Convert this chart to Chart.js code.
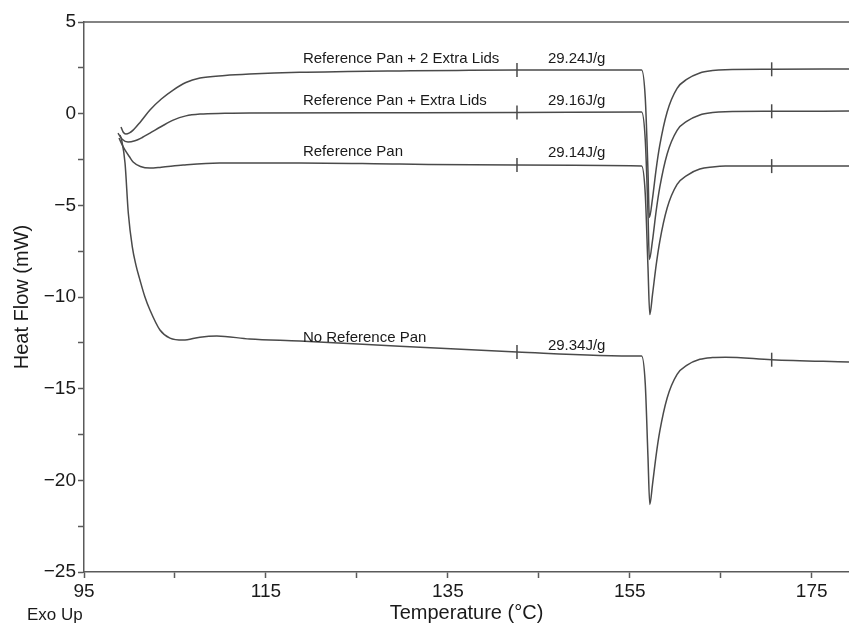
<!DOCTYPE html>
<html>
<head>
<meta charset="utf-8">
<title>DSC curves</title>
<script src="https://cdn.jsdelivr.net/npm/chart.js@4.4.1/dist/chart.umd.min.js"></script>
<style>
  html, body { margin: 0; padding: 0; background: #fff; }
</style>
</head>
<body>
<canvas id="dscChart" width="849" height="625"></canvas>
<script>
// curve names and enthalpy labels
const curveNames = ['Reference Pan + 2 Extra Lids', 'Reference Pan + Extra Lids', 'Reference Pan', 'No Reference Pan'];
const enthalpies = ['29.24J/g', '29.16J/g', '29.14J/g', '29.34J/g'];

// axis ticks
const xMajorTicks = [95, 115, 135, 155, 175];
const xMinorTicks = [105, 125, 145, 165];
const yMajorTicks = [-25, -20, -15, -10, -5, 0, 5];
const yMinorTicks = [-22.5, -17.5, -12.5, -7.5, -2.5, 2.5];

// Reference Pan + 2 Extra Lids
const tempA = [99.07, 99.3, 99.6, 100.0, 100.4, 101.2, 102.25, 103.5, 104.8, 106.2, 107.75, 110.5, 113.2, 118.7, 124.0, 129.7, 136.0, 142.6, 150.0, 156.3, 156.7, 157.0, 157.15, 157.5, 157.9, 158.3, 159.1, 160.2, 161.3, 162.7, 164.1, 165.5, 170.6, 179.1];
const flowA = [-0.73, -1.0, -1.11, -1.05, -0.9, -0.45, 0.2, 0.8, 1.29, 1.7, 1.94, 2.08, 2.16, 2.26, 2.3, 2.33, 2.36, 2.38, 2.38, 2.38, 0.88, -3.12, -5.67, -4.62, -3.02, -1.72, 0.08, 1.38, 1.88, 2.22, 2.35, 2.40, 2.42, 2.44];

// Reference Pan + Extra Lids
const tempB = [98.74, 99.2, 99.84, 100.6, 101.4, 102.25, 103.5, 104.8, 106.2, 107.75, 110.5, 113.2, 129.7, 142.6, 156.3, 156.7, 157.0, 157.15, 157.5, 157.9, 158.3, 159.1, 160.2, 161.3, 162.7, 164.1, 165.5, 170.6, 179.1];
const flowB = [-1.06, -1.4, -1.55, -1.48, -1.3, -1.06, -0.7, -0.35, -0.12, -0.02, 0.02, 0.04, 0.05, 0.06, 0.09, -1.41, -5.41, -7.96, -6.91, -5.31, -4.01, -2.21, -0.91, -0.41, -0.07, 0.06, 0.11, 0.13, 0.14];

// Reference Pan
const tempC = [98.85, 99.2, 99.5, 100.0, 100.4, 101.2, 102.25, 103.5, 105.9, 109.9, 118.7, 129.7, 142.6, 156.3, 156.7, 157.0, 157.2, 157.5, 157.9, 158.3, 159.1, 160.2, 161.3, 162.7, 164.1, 165.5, 170.6, 179.1];
const flowC = [-1.33, -1.7, -1.98, -2.35, -2.64, -2.88, -2.97, -2.92, -2.80, -2.69, -2.69, -2.75, -2.80, -2.86, -4.36, -8.36, -10.96, -9.86, -8.26, -6.96, -5.16, -3.86, -3.36, -3.02, -2.91, -2.86, -2.86, -2.86];

// No Reference Pan
const tempD = [98.96, 99.14, 99.51, 99.87, 100.31, 100.71, 101.15, 101.7, 102.25, 103.35, 104.45, 105.9, 107.75, 109.6, 113.2, 118.7, 129.7, 142.6, 156.1, 156.3, 156.7, 157.0, 157.2, 157.5, 157.9, 158.3, 159.1, 160.2, 161.3, 162.7, 164.1, 165.5, 170.6, 179.1];
const flowD = [-1.16, -1.44, -2.69, -5.42, -7.27, -8.26, -9.07, -10.0, -10.71, -11.80, -12.24, -12.35, -12.19, -12.13, -12.29, -12.40, -12.68, -13.0, -13.22, -13.22, -14.72, -18.72, -21.32, -20.22, -18.62, -17.32, -15.52, -14.22, -13.72, -13.4, -13.3, -13.28, -13.42, -13.55];

// integration limits
const limitTemps = [142.6, 170.6];
const limitA = [2.38, 2.42];
const limitB = [0.06, 0.13];
const limitC = [-2.80, -2.86];
const limitD = [-13.0, -13.42];

function pairs(xs, ys) {
    return xs.map((x, i) => ({ x: x, y: ys[i] }));
}

const lineColor = '#4a4a4a';
const axisColor = '#5a5a5a';
const textColor = '#1a1a1a';
const fontFamily = '"Liberation Sans", Arial, sans-serif';

function curve(xs, ys) {
    return {
        data: pairs(xs, ys),
        borderColor: lineColor,
        borderWidth: 1.5,
        pointRadius: 0,
        cubicInterpolationMode: 'monotone',
        fill: false
    };
}

function marks(ys) {
    return {
        data: pairs(limitTemps, ys),
        showLine: false,
        pointStyle: 'line',
        rotation: 90,
        pointRadius: 7,
        pointBorderWidth: 1.5,
        borderColor: lineColor,
        backgroundColor: lineColor
    };
}

// annotation anchors: [x, y] in data units for name and enthalpy
const nameAnchors = [[119.07, 2.98], [119.07, 0.69], [119.07, -2.09], [119.07, -12.24]];
const valueAnchors = [[146.0, 2.98], [146.0, 0.69], [146.0, -2.15], [146.0, -12.68]];

const decorPlugin = {
    id: 'decor',
    afterDatasetsDraw(chart) {
        const ctx = chart.ctx;
        const area = chart.chartArea;
        const xs = chart.scales.x;
        const ys = chart.scales.y;
        ctx.save();
        // top frame line
        ctx.strokeStyle = axisColor;
        ctx.lineWidth = 1.5;
        ctx.beginPath();
        ctx.moveTo(area.left, area.top);
        ctx.lineTo(area.right, area.top);
        ctx.stroke();

        ctx.fillStyle = textColor;
        ctx.font = '15px ' + fontFamily;
        ctx.textBaseline = 'middle';
        ctx.textAlign = 'left';
        curveNames.forEach((name, i) => {
            ctx.fillText(name, xs.getPixelForValue(nameAnchors[i][0]), ys.getPixelForValue(nameAnchors[i][1]));
            ctx.fillText(enthalpies[i], xs.getPixelForValue(valueAnchors[i][0]), ys.getPixelForValue(valueAnchors[i][1]));
        });

        ctx.font = '17px ' + fontFamily;
        ctx.fillText('Exo Up', 27, 615);
        ctx.restore();
    }
};

const ctx = document.getElementById('dscChart').getContext('2d');
const dscChart = new Chart(ctx, {
    type: 'line',
    data: {
        datasets: [
            curve(tempA, flowA),
            curve(tempB, flowB),
            curve(tempC, flowC),
            curve(tempD, flowD),
            marks(limitA),
            marks(limitB),
            marks(limitC),
            marks(limitD)
        ]
    },
    options: {
        responsive: false,
        animation: false,
        layout: { autoPadding: false, padding: { top: 22, right: 0, left: 0, bottom: 0 } },
        plugins: {
            legend: { display: false },
            tooltip: { enabled: false }
        },
        scales: {
            x: {
                type: 'linear',
                min: 95,
                max: 179.1,
                afterBuildTicks: scale => {
                    scale.ticks = xMajorTicks.concat(xMinorTicks).sort((a, b) => a - b).map(v => ({ value: v }));
                },
                afterFit: scale => {
                    scale.height = 53;
                    scale.paddingRight = 0;
                },
                ticks: {
                    autoSkip: false,
                    maxRotation: 0,
                    padding: 2,
                    color: textColor,
                    font: { family: fontFamily, size: 19 },
                    callback: v => (xMajorTicks.includes(v) ? String(v) : '')
                },
                grid: {
                    drawOnChartArea: false,
                    tickLength: 6,
                    tickColor: axisColor,
                    tickWidth: 1.5
                },
                border: { color: axisColor, width: 1.5 },
                title: {
                    display: true,
                    text: 'Temperature (°C)',
                    color: textColor,
                    font: { family: fontFamily, size: 20 },
                    padding: { top: 0, bottom: 0 }
                }
            },
            y: {
                min: -25,
                max: 5,
                afterBuildTicks: scale => {
                    scale.ticks = yMajorTicks.concat(yMinorTicks).sort((a, b) => a - b).map(v => ({ value: v }));
                },
                afterFit: scale => { scale.width = 84; },
                ticks: {
                    autoSkip: false,
                    padding: 2,
                    color: textColor,
                    font: { family: fontFamily, size: 19 },
                    callback: v => {
                        if (!yMajorTicks.includes(v)) return '';
                        return v < 0 ? '\u2212' + Math.abs(v) : String(v);
                    }
                },
                grid: {
                    drawOnChartArea: false,
                    tickLength: 6,
                    tickColor: axisColor,
                    tickWidth: 1.5
                },
                border: { color: axisColor, width: 1.5 },
                title: {
                    display: true,
                    text: 'Heat Flow (mW)',
                    color: textColor,
                    font: { family: fontFamily, size: 20 },
                    padding: { top: 10, bottom: 0 }
                }
            }
        }
    },
    plugins: [decorPlugin]
});
</script>
</body>
</html>
